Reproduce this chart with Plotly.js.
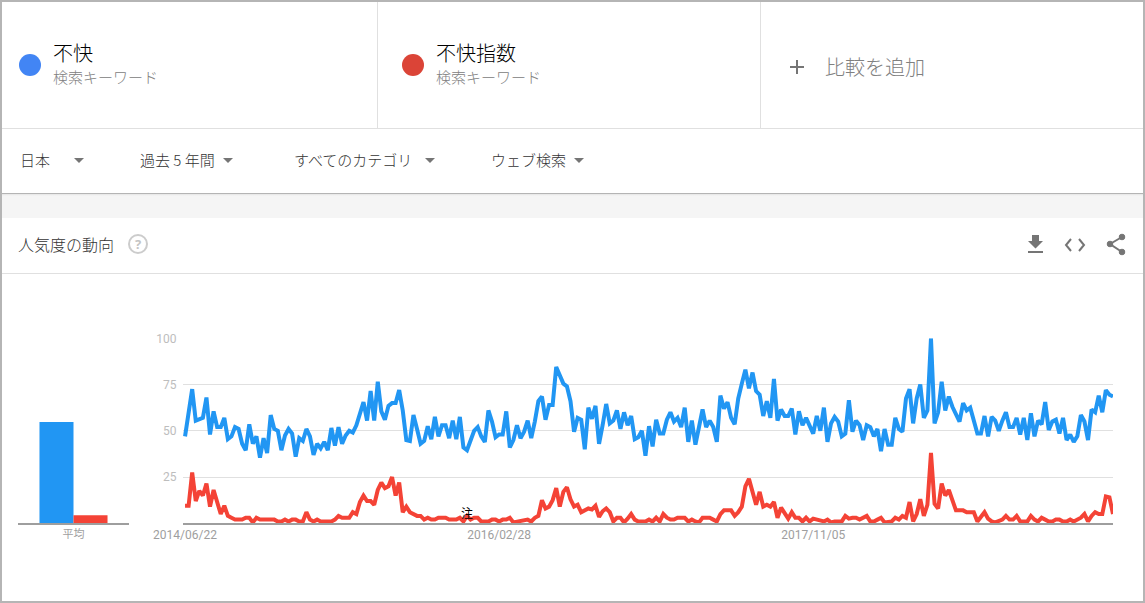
<!DOCTYPE html>
<html lang="ja">
<head>
<meta charset="utf-8">
<script src="https://cdn.plot.ly/plotly-3.0.1.min.js"></script>
<style>
html,body{margin:0;padding:0;background:#fff;overflow:hidden}
#page{position:relative;width:1145px;height:603px;font-family:"Noto Sans CJK JP","Noto Sans",sans-serif;background:#fff;overflow:hidden}
#plot{position:absolute;left:0;top:0;width:1145px;height:603px}
.t{position:absolute;white-space:nowrap;line-height:1;transform:translateY(-50%)}
.b{position:absolute;background:#e0e0e0}
.dot{position:absolute;width:22px;height:22px;border-radius:50%}
.tri{position:absolute;width:0;height:0;border-left:5px solid transparent;border-right:5px solid transparent;border-top:5px solid #757575}
</style>
</head>
<body>
<div id="page">
  <div id="plot"></div>
  <div class="b" style="left:377px;top:2px;width:1px;height:126px"></div>
  <div class="b" style="left:760px;top:2px;width:1px;height:126px"></div>
  <div class="b" style="left:2px;top:128px;width:1141px;height:1px"></div>
  <div style="position:absolute;left:2px;top:193px;width:1141px;height:25px;background:linear-gradient(#b4b4b4 0,#b4b4b4 1px,#e4e4e4 1px,#eeeeee 2px,#f5f5f5 3px,#f5f5f5 100%)"></div>
  <div class="b" style="left:2px;top:273px;width:1141px;height:1px"></div>

  <div class="dot" style="left:19px;top:54px;background:#4285f4"></div>
  <div class="t" style="left:53px;top:53px;font-size:20px;color:#000;font-weight:300">不快</div>
  <div class="t" style="left:53px;top:76px;font-size:15px;color:#808080;font-weight:300">検索キーワード</div>
  <div class="dot" style="left:402px;top:54px;background:#db4437"></div>
  <div class="t" style="left:436px;top:53px;font-size:20px;color:#000;font-weight:300">不快指数</div>
  <div class="t" style="left:436px;top:76px;font-size:15px;color:#808080;font-weight:300">検索キーワード</div>
  <div class="b" style="left:790px;top:66px;width:14px;height:2px;background:#757575"></div>
  <div class="b" style="left:796px;top:60px;width:2px;height:14px;background:#757575"></div>
  <div class="t" style="left:825px;top:67px;font-size:20px;color:#808080;font-weight:300">比較を追加</div>

  <div class="t" style="left:20px;top:159px;font-size:15px;color:#333;font-weight:300">日本</div>
  <div class="tri" style="left:74px;top:158px"></div>
  <div class="t" style="left:140px;top:159px;font-size:15px;color:#333;font-weight:300">過去 5 年間</div>
  <div class="tri" style="left:223px;top:158px"></div>
  <div class="t" style="left:294px;top:159px;font-size:15px;color:#333;font-weight:300">すべてのカテゴリ</div>
  <div class="tri" style="left:425px;top:158px"></div>
  <div class="t" style="left:491px;top:159px;font-size:15px;color:#333;font-weight:300">ウェブ検索</div>
  <div class="tri" style="left:574px;top:158px"></div>

  <div class="t" style="left:18px;top:244px;font-size:16px;color:#333;font-weight:300">人気度の動向</div>
  <div style="position:absolute;left:128px;top:234px;width:16px;height:16px;border:2px solid #ccc;border-radius:50%;color:#c4c4c4;font:bold 13px/16px 'Noto Sans',sans-serif;text-align:center">?</div>

  <svg style="position:absolute;left:1024px;top:232px" width="110" height="26" viewBox="0 0 110 26">
    <path d="M8 3h7v6h4l-7.5 7.5L4 9h4z M4 19h15v2H4z" fill="#757575"/>
    <path d="M47 7l-5 6 5 6M55 7l5 6-5 6" fill="none" stroke="#757575" stroke-width="2"/>
    <g fill="#757575" stroke="#757575"><circle cx="98" cy="5" r="2.8"/><circle cx="86" cy="12" r="2.8"/><circle cx="98" cy="20" r="2.8"/><path d="M98 5L86 12L98 20" fill="none" stroke-width="2"/></g>
  </svg>

  <div style="position:absolute;left:0;top:0;width:1145px;height:603px;border:2px solid #b5b5b5;box-sizing:border-box;pointer-events:none"></div>
</div>
<script>
const startDate = "2014-06-22";
const seriesNames = ["不快", "不快指数"];
const averageLabel = "平均";
const tickDates = ["2014-06-22", "2016-02-28", "2017-11-05"];
const tickLabels = ["2014/06/22", "2016/02/28", "2017/11/05"];
const yTicks = [25, 50, 75, 100];
const averages = [54.7, 4.4];
const blueValues = [
  47,60,72.5,55.5,56.5,57,68,48,60.5,52,
  52,57,45.5,47,52,51,43,39.5,53.5,43,
  47,35.5,46,38,58.5,51,50,39.5,47.5,51,
  48.5,36,46,44.5,51,47,37,43,40.5,44,
  39.5,51.5,42,52,43,47.5,50,49,53,59.5,
  65.5,55.5,71.5,55.5,76.5,60.5,56,63.5,65,65,
  72,61,45,44.5,58.5,51,43,44.5,52.5,45.5,
  57.5,47,53,53,46,55.5,45.5,57.5,41,39.5,
  45,50,52,47,44,61,55,46.5,48,48,
  60.5,41,45,53,46,49.5,55.5,46,55,66,
  68.5,56,64,64,84.5,80,75.5,74,66,49.5,
  57,56,40,62.5,56.5,63.5,43,53,64.5,54,
  55.5,61,51,60,53,58,45.5,46.5,50,36.5,
  52.5,41.5,56,48.5,48.5,56,60,55,57,52,
  62.5,44,55.5,42.5,52,61.5,52,55.5,52,44,
  69,62,65.5,57,53.5,67.5,75.5,83,73,81.5,
  71.5,69.5,58,66,57,78,55.5,61.5,58,58,
  62,48,60.5,53,57,52.5,48.5,58,50,62.5,
  44,54,57.5,55,47,48.5,66.5,49.5,55.5,53,
  45,53,52,47,51,39,51,42.5,42.5,57,
  51,49.5,67.5,72.5,54,67.5,75,57,61,100,
  54,60,76.5,61,68.5,63,59,55,65,61,
  62.5,55,48.5,48.5,58,47,57.5,55.5,50,55.5,
  60,52,52,57,48,57,45,59.5,47,55.5,
  53.5,65.5,50.5,55,56,48.5,57,45,48,44,
  47,58.5,55,45,61.5,60,69,60,72,69.5,68.5
];
const redValues = [
  9.5,9.5,27.5,12,17.5,15,21.5,9,18,11.5,
  5,9.5,4,3,2,2,2,3,3,0.5,
  3,2,2,2,2,2,1,1,2,1,
  2,2,1,1,6,2,1,2,1,1,
  1,1,2,4,3,3,3,6,5,11.5,
  15,12,12,10,18,22,19,20,25,15,
  22,6,9,6,5,4,4,2,3,2,
  2,3,3,3,2,2,2,3,1,4,
  2,3,3,1,1,1,2,2,1,2,
  2,3,0.5,1,1,2,2,1,3,4,
  12.5,8,9,12.5,19,9,17,19.5,13,9,
  10,6,7,8,7.5,9.5,3.5,6.5,8,6,
  1,3,3,0.5,2.5,5,2,1,1,1,
  2,1,3,1,5,3,2,2,3,3,
  3,1,2,1,0.5,3,3,3,2,1,
  5,7,7,7,4,6,9,20,24,16,
  10,17,9,10,9,11.5,3,8.5,5,2.5,
  6,3,3,1,3,1,2.5,2,2,1,
  2,0.5,1,1,1,4,2.5,3,3,2,
  3,4,1,1,2,3,0.5,1,1,3,
  2,4,3,11.5,1,5,13,4,10,38,
  10.5,8,21.5,15,18,12.5,7,7,7,6,
  6,6,1,3.5,6,2.5,1,0.5,1,2,
  4,2,2,4,1,1,1,4,2,1,
  3,2,1,1,2,2,1,1,2,1,
  2,3,5,1,4,6,5,5,14.5,14,5
];
const noteLabel = "注";
const noteDate = "2015-12-27";
const noteValue = 6;

const W = 1145, H = 603, BLUE = "#2196f3", RED = "#f44336";
const dayMs = 86400000, t0 = Date.parse(startDate + "T00:00:00Z");
const dates = blueValues.map((_, i) => new Date(t0 + i * 7 * dayMs).toISOString().slice(0, 10));
const rangeStart = new Date(t0 - 4 * dayMs).toISOString().slice(0, 10);
const yDomain = [(H-523.3)/H,(H-338.3)/H];

const traces = [
  {type:"scatter",mode:"lines",x:dates,y:blueValues,name:seriesNames[0],xaxis:"x",yaxis:"y",line:{color:BLUE,width:4},hoverinfo:"x+y"},
  {type:"scatter",mode:"lines",x:dates,y:redValues,name:seriesNames[1],xaxis:"x",yaxis:"y",line:{color:RED,width:4},hoverinfo:"x+y"},
  {type:"bar",x:[averageLabel],y:[averages[0]],name:seriesNames[0],xaxis:"x2",yaxis:"y2",marker:{color:BLUE},offsetgroup:"a"},
  {type:"bar",x:[averageLabel],y:[averages[1]],name:seriesNames[1],xaxis:"x2",yaxis:"y2",marker:{color:RED},offsetgroup:"b"}
];
const layout = {
  width:W,height:H,margin:{l:0,r:0,t:0,b:0},paper_bgcolor:"rgba(0,0,0,0)",plot_bgcolor:"rgba(0,0,0,0)",
  showlegend:false,barmode:"group",bargap:0.387,bargroupgap:0,
  font:{family:"Roboto, sans-serif",size:12},
  xaxis:{type:"date",domain:[183/W,1113/W],range:[rangeStart,dates[dates.length-1]],anchor:"y",
    tickmode:"array",tickvals:tickDates,ticktext:tickLabels,tickfont:{size:12,color:"#9e9e9e"},
    showgrid:false,zeroline:false,showline:true,linecolor:"#9e9e9e",linewidth:1.5,ticks:""},
  xaxis2:{type:"category",domain:[18/W,129/W],anchor:"y2",tickfont:{family:"Noto Sans CJK JP, sans-serif",size:11,color:"#9e9e9e"},
    showgrid:false,zeroline:false,showline:true,linecolor:"#9e9e9e",linewidth:1.5,ticks:""},
  yaxis:{domain:yDomain,range:[0,100],anchor:"x",tickmode:"array",tickvals:yTicks,
    tickfont:{size:12,color:"#bdbdbd"},gridcolor:"#e0e0e0",gridwidth:1,zeroline:false,showline:false,ticks:"outside",ticklen:3,tickcolor:"rgba(0,0,0,0)"},
  yaxis2:{domain:yDomain,range:[0,100],anchor:"x2",showticklabels:false,showgrid:false,zeroline:false,showline:false,ticks:""},
  annotations:[{x:noteDate,y:noteValue,xref:"x",yref:"y",text:noteLabel,showarrow:false,font:{family:"Noto Sans CJK JP, sans-serif",size:12,color:"#000"}}]
};
Plotly.newPlot("plot",traces,layout,{displayModeBar:false,responsive:false,staticPlot:true});
</script>
</body>
</html>
